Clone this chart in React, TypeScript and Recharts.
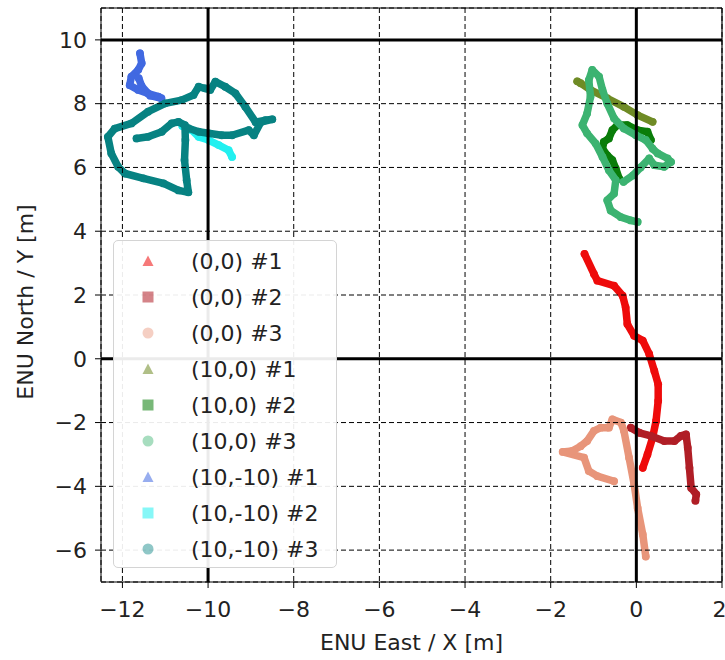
import { CartesianGrid, ReferenceLine, Scatter, ScatterChart, XAxis, YAxis } from "recharts";

const FONT = "'DejaVu Sans', Verdana, sans-serif";
const INK = "#222";
const FS = 22;

const X_TICKS = [-12, -10, -8, -6, -4, -2, 0, 2];
const Y_TICKS = [-6, -4, -2, 0, 2, 4, 6, 8, 10];
const X_BOLD = [-10, 0];
const Y_BOLD = [0, 10];

type P = [number, number];

// (0,0) runs
const o00_1: P[] = [
  [-1.21, 3.29], [-0.99, 2.66], [-0.91, 2.45], [-0.52, 2.29], [-0.32, 1.98], [-0.25, 1.61],
  [-0.21, 1.09], [-0.05, 0.72], [0.15, 0.57], [0.3, 0.15], [0.42, -0.38], [0.51, -0.8],
  [0.51, -1.32], [0.46, -1.95], [0.38, -2.47], [0.26, -3.0], [0.15, -3.42],
];
const o00_2: P[] = [
  [-0.13, -2.16], [0.07, -2.32], [0.34, -2.42], [0.65, -2.58], [0.89, -2.58], [1.04, -2.42],
  [1.16, -2.37], [1.2, -2.79], [1.24, -3.42], [1.28, -4.05], [1.4, -4.25], [1.38, -4.45],
];
const o00_3: P[] = [
  [0.22, -6.2], [0.15, -5.51], [0.03, -4.68], [-0.05, -3.94], [-0.17, -3.1], [-0.29, -2.26],
  [-0.36, -2.0], [-0.56, -1.9], [-0.64, -2.16], [-0.83, -2.16], [-0.99, -2.26], [-1.15, -2.58],
  [-1.3, -2.74], [-1.5, -2.89], [-1.72, -2.92], [-1.22, -3.1], [-1.11, -3.52], [-0.91, -3.68],
  [-0.52, -3.84],
];

// (10,0) runs
const o100_1: P[] = [
  [-1.38, 8.7], [-1.3, 8.64], [-1.07, 8.43], [-0.68, 8.17], [-0.29, 7.9], [0.03, 7.64], [0.38, 7.43],
];
const o100_2: P[] = [
  [0.34, 6.86], [0.26, 7.12], [0.03, 7.17], [-0.21, 7.33], [-0.44, 7.33], [-0.56, 7.17],
  [-0.64, 6.91], [-0.76, 6.8], [-0.79, 6.59], [-0.68, 6.38], [-0.56, 6.23], [-0.48, 5.96], [-0.4, 5.65],
];
const o100_3: P[] = [
  [0.03, 4.29], [-0.13, 4.34], [-0.36, 4.44], [-0.6, 4.65], [-0.68, 4.97], [-0.52, 5.18],
  [-0.48, 5.6], [-0.64, 5.91], [-0.79, 6.33], [-0.95, 6.75], [-1.15, 7.07], [-1.26, 7.33],
  [-1.15, 7.69], [-1.07, 8.22], [-1.11, 8.74], [-1.03, 9.06], [-0.87, 8.85], [-0.79, 8.43],
  [-0.68, 8.01], [-0.52, 7.54], [-0.29, 7.22], [-0.01, 7.01], [0.22, 6.86], [0.38, 6.59],
  [0.5, 6.44], [0.73, 6.28], [0.81, 6.17], [0.65, 6.02], [0.42, 6.07], [0.3, 6.28],
  [0.1, 6.0], [-0.08, 5.75], [-0.3, 5.55],
];

// (10,-10) runs
const o1010_1: P[] = [
  [-11.59, 9.58], [-11.55, 9.27], [-11.63, 9.06], [-11.79, 8.85], [-11.83, 8.58], [-11.63, 8.43],
  [-11.4, 8.32], [-11.16, 8.22], [-11.09, 8.17], [-11.35, 8.25], [-11.55, 8.55], [-11.62, 8.8],
];
const o1010_2: P[] = [
  [-10.6, 7.3], [-10.38, 7.17], [-10.22, 6.96], [-9.99, 6.86], [-9.75, 6.7], [-9.52, 6.54], [-9.44, 6.33],
];
const o1010_3: P[] = [
  [-11.67, 6.91], [-11.4, 6.96], [-11.08, 7.12], [-10.85, 7.38], [-10.69, 7.43], [-10.54, 7.33],
  [-10.53, 6.86], [-10.55, 6.23], [-10.5, 5.6], [-10.46, 5.22], [-10.69, 5.28], [-11.04, 5.5],
  [-11.51, 5.66], [-11.94, 5.81], [-12.1, 6.02], [-12.26, 6.44], [-12.34, 6.96], [-12.18, 7.22],
  [-11.79, 7.38], [-11.4, 7.75], [-11.0, 8.01], [-10.62, 8.11], [-10.34, 8.27], [-10.22, 8.53],
  [-10.07, 8.48], [-9.95, 8.43], [-9.83, 8.69], [-9.6, 8.53], [-9.36, 8.32], [-9.13, 7.9],
  [-8.89, 7.42], [-8.66, 7.48], [-8.5, 7.51], [-8.77, 7.42], [-8.93, 7.01], [-9.05, 7.17],
  [-9.44, 7.01], [-9.68, 7.01], [-9.99, 7.07], [-10.22, 7.12], [-10.46, 7.23],
];

type Marker = "triangle" | "square" | "circle";

const SERIES: { name: string; color: string; marker: Marker; pts: P[] }[] = [
  { name: "(0,0) #1", color: "#ee0b0b", marker: "triangle", pts: o00_1 },
  { name: "(0,0) #2", color: "#b01e26", marker: "square", pts: o00_2 },
  { name: "(0,0) #3", color: "#e8957a", marker: "circle", pts: o00_3 },
  { name: "(10,0) #1", color: "#6f8b25", marker: "triangle", pts: o100_1 },
  { name: "(10,0) #2", color: "#0a7d0a", marker: "square", pts: o100_2 },
  { name: "(10,0) #3", color: "#3cb371", marker: "circle", pts: o100_3 },
  { name: "(10,-10) #1", color: "#4169e1", marker: "triangle", pts: o1010_1 },
  { name: "(10,-10) #2", color: "#22f0f0", marker: "square", pts: o1010_2 },
  { name: "(10,-10) #3", color: "#078282", marker: "circle", pts: o1010_3 },
];

const fmt = (v: number) => (v < 0 ? `\u2212${-v}` : `${v}`);
const tick = { fill: INK, fontSize: FS, fontFamily: FONT };

function MarkerIcon({ kind, color }: { kind: Marker; color: string }) {
  return (
    <svg width={16} height={16} style={{ display: "block" }}>
      {kind === "triangle" && <polygon points="8,2.5 13.5,13 2.5,13" fill={color} fillOpacity={0.55} />}
      {kind === "square" && <rect x={2.5} y={2.5} width={11} height={11} fill={color} fillOpacity={0.55} />}
      {kind === "circle" && <circle cx={8} cy={8} r={5.5} fill={color} fillOpacity={0.45} />}
    </svg>
  );
}

function LegendBox() {
  return (
    <div
      style={{
        position: "absolute", left: 113, top: 240, width: 224, height: 328,
        border: "1px solid #d4d4d4", borderRadius: 5, background: "rgba(255,255,255,0.92)",
        fontFamily: FONT, fontSize: FS, color: INK, paddingTop: 2, boxSizing: "border-box",
      }}
    >
      {SERIES.map((s) => (
        <div key={s.name} style={{ display: "flex", alignItems: "center", height: 36 }}>
          <div style={{ width: 26, marginLeft: 26 }}>
            <MarkerIcon kind={s.marker} color={s.color} />
          </div>
          <span style={{ marginLeft: 25, whiteSpace: "nowrap" }}>{s.name}</span>
        </div>
      ))}
    </div>
  );
}

const YLabel = (props: any) => {
  const vb = props.viewBox || { x: 0, y: 8, width: 101, height: 574 };
  const cx = vb.x + 25;
  const cy = vb.y + vb.height / 2 + 7;
  return (
    <text x={cx} y={cy} transform={`rotate(-90 ${cx} ${cy})`} textAnchor="middle" dominantBaseline="central"
      fill={INK} fontSize={FS} fontFamily={FONT}>
      ENU North / Y [m]
    </text>
  );
};

export default function App() {
  return (
    <div style={{ position: "absolute", left: 0, top: 0, width: 725, height: 660, background: "#fff" }}>
      <ScatterChart width={725} height={660} margin={{ top: 8, right: 3, left: 0, bottom: 0 }}>
        <XAxis
          dataKey="x" type="number" domain={[-12.5, 2]} ticks={X_TICKS} allowDataOverflow
          height={78} tickSize={6} tickMargin={13} tick={tick} tickFormatter={fmt}
          axisLine={{ stroke: "#000" }} tickLine={{ stroke: "#000" }}
          label={{ value: "ENU East / X [m]", position: "insideBottom", offset: 10, fill: INK, fontSize: FS, fontFamily: FONT }}
        />
        <YAxis
          dataKey="y" type="number" domain={[-7, 11]} ticks={Y_TICKS} allowDataOverflow
          width={101} tickSize={6} tickMargin={8} tick={tick} tickFormatter={fmt}
          axisLine={{ stroke: "#000" }} tickLine={{ stroke: "#000" }}
          label={{ content: YLabel }}
        />
        {SERIES.map((s) => (
          <Scatter
            key={s.name}
            name={s.name}
            data={s.pts.map(([x, y]) => ({ x, y }))}
            fill={s.color}
            line={{ stroke: s.color, strokeWidth: 7.5, strokeLinecap: "round", strokeLinejoin: "round" }}
            shape={(p: any) => <circle cx={p.cx} cy={p.cy} r={3.9} fill={s.color} />}
            isAnimationActive={false}
          />
        ))}
        <CartesianGrid stroke="#000" strokeDasharray="5 3" strokeWidth={1} zIndex={900} />
        {X_BOLD.map((v) => (
          <ReferenceLine key={`x${v}`} x={v} stroke="#000" strokeWidth={3} zIndex={950} />
        ))}
        {Y_BOLD.map((v) => (
          <ReferenceLine key={`y${v}`} y={v} stroke="#000" strokeWidth={3} zIndex={950} />
        ))}
        <ReferenceLine x={2} stroke="#000" strokeWidth={1.2} zIndex={950} />
        <ReferenceLine y={11} stroke="#000" strokeWidth={1.2} zIndex={950} />
      </ScatterChart>
      <LegendBox />
    </div>
  );
}
